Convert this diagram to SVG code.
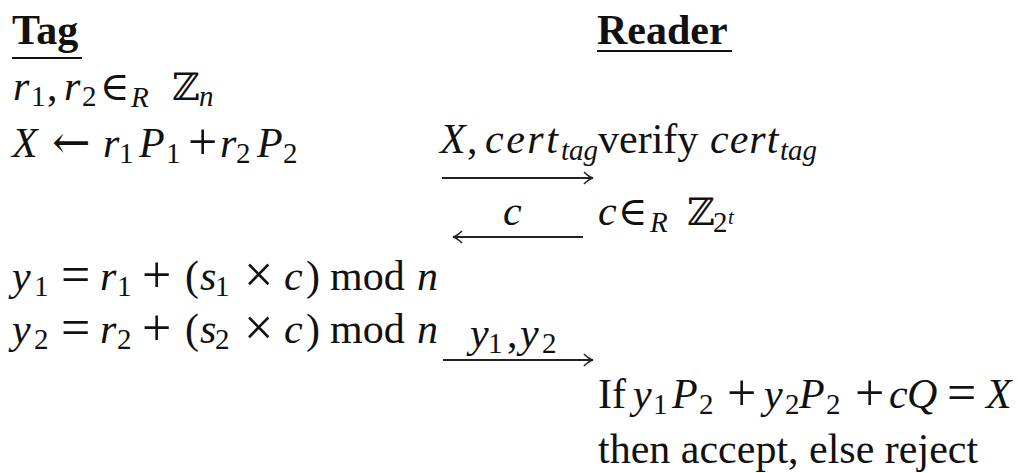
<svg xmlns="http://www.w3.org/2000/svg" width="1018" height="473" viewBox="0 0 1018 473">
<defs>
<style>
text{font-family:"Liberation Serif","DejaVu Serif",serif;font-size:42px;fill:#111}
.b{font-weight:bold}
.i{font-style:italic}
.s{font-size:29px}
.ss{font-size:21px}
.op{font-size:52px}
.el{font-family:"DejaVu Serif",serif;font-size:40px}
.la{font-family:"DejaVu Serif",serif;font-size:46px}
.bb{font-family:"DejaVu Serif",serif;font-size:38px}
.ul{stroke:#111;stroke-width:2}
.arr{stroke:#222;stroke-width:1.8;fill:none}
</style>
<marker id="head" markerUnits="userSpaceOnUse" markerWidth="16" markerHeight="14" refX="0" refY="0" viewBox="-12 -7 14 14" orient="auto">
<path d="M-9,-6 Q-4,-1 0,0 Q-4,1 -9,6" fill="none" stroke="#222" stroke-width="1.6"/>
</marker>
</defs>
<rect width="1018" height="473" fill="#fff"/>
<g id="tag-header"><text x="12" y="44" class="b">Tag</text><line class="ul" x1="12" y1="58" x2="82" y2="58"/></g>
<g id="reader-header"><text x="597" y="44" class="b">Reader</text><line class="ul" x1="597" y1="51" x2="732" y2="51"/></g>
<g id="tag-random">
<text><tspan x="13" y="100" class="i">r</tspan><tspan x="31" y="106" class="s">1</tspan><tspan x="47" y="100">,</tspan><tspan x="64" y="100" class="i">r</tspan><tspan x="82" y="106" class="s">2</tspan><tspan x="100" y="100" class="el">∈</tspan><tspan x="131" y="107" class="s i">R</tspan><tspan x="172" y="100" class="bb">ℤ</tspan><tspan x="199" y="106" class="s i">n</tspan></text>
</g>
<g id="tag-commit">
<text><tspan x="12" y="157" class="i">X</tspan><tspan x="52" y="158" class="la">←</tspan><tspan x="103" y="157" class="i">r</tspan><tspan x="119" y="163" class="s">1</tspan><tspan x="139" y="157" class="i">P</tspan><tspan x="166" y="163" class="s">1</tspan><tspan x="188" y="159" class="op">+</tspan><tspan x="220" y="157" class="i">r</tspan><tspan x="236" y="163" class="s">2</tspan><tspan x="257" y="157" class="i">P</tspan><tspan x="283" y="163" class="s">2</tspan></text>
</g>
<g id="reader-verify">
<text><tspan x="598" y="153">verify</tspan><tspan x="710" y="153" class="i" letter-spacing="1">cert</tspan><tspan x="780" y="160" class="s i">tag</tspan></text>
</g>
<g id="reader-challenge">
<text><tspan x="598" y="225" class="i">c</tspan><tspan x="618" y="225" class="el">∈</tspan><tspan x="650" y="232" class="s i">R</tspan><tspan x="687" y="225" class="bb">ℤ</tspan><tspan x="713" y="232" class="s">2</tspan><tspan x="728" y="224" class="ss i">t</tspan></text>
</g>
<g id="tag-response">
<text><tspan x="12" y="290" class="i">y</tspan><tspan x="34" y="296" class="s">1</tspan><tspan x="61" y="292" class="op">=</tspan><tspan x="100" y="290" class="i">r</tspan><tspan x="117" y="296" class="s">1</tspan><tspan x="142" y="292" class="op">+</tspan><tspan x="185" y="290">(</tspan><tspan x="200" y="290" class="i">s</tspan><tspan x="215" y="296" class="s">1</tspan><tspan x="244" y="292" class="op">×</tspan><tspan x="284" y="290" class="i">c</tspan><tspan x="306" y="290">)</tspan><tspan x="330" y="290">mod</tspan><tspan x="417" y="290" class="i">n</tspan></text>
<text><tspan x="12" y="343" class="i">y</tspan><tspan x="34" y="349" class="s">2</tspan><tspan x="61" y="345" class="op">=</tspan><tspan x="100" y="343" class="i">r</tspan><tspan x="117" y="349" class="s">2</tspan><tspan x="142" y="345" class="op">+</tspan><tspan x="185" y="343">(</tspan><tspan x="200" y="343" class="i">s</tspan><tspan x="215" y="349" class="s">2</tspan><tspan x="244" y="345" class="op">×</tspan><tspan x="284" y="343" class="i">c</tspan><tspan x="306" y="343">)</tspan><tspan x="330" y="343">mod</tspan><tspan x="417" y="343" class="i">n</tspan></text>
</g>
<g id="reader-check">
<text><tspan x="598" y="408">If</tspan><tspan x="633" y="408" class="i">y</tspan><tspan x="653" y="414" class="s">1</tspan><tspan x="672" y="408" class="i">P</tspan><tspan x="699" y="414" class="s">2</tspan><tspan x="727" y="410" class="op">+</tspan><tspan x="764" y="408" class="i">y</tspan><tspan x="785" y="414" class="s">2</tspan><tspan x="799" y="408" class="i">P</tspan><tspan x="826" y="414" class="s">2</tspan><tspan x="855" y="410" class="op">+</tspan><tspan x="889" y="408" class="i">c</tspan><tspan x="907" y="408" class="i">Q</tspan><tspan x="947" y="410" class="op">=</tspan><tspan x="986" y="408" class="i">X</tspan></text>
<text x="598" y="463">then accept, else reject</text>
</g>
<g id="connectors">
<path class="arr" d="M442,178 H593" marker-end="url(#head)"/>
<path class="arr" d="M583,237 H453" marker-end="url(#head)"/>
<path class="arr" d="M443,360 H593" marker-end="url(#head)"/>
<text><tspan x="440" y="153" class="i">X</tspan><tspan x="467" y="153">,</tspan><tspan x="485" y="153" class="i" letter-spacing="2.5">cert</tspan><tspan x="561" y="160" class="s i">tag</tspan></text>
<text x="503" y="225" class="i">c</text>
<text><tspan x="470" y="347" class="i">y</tspan><tspan x="488" y="353" class="s">1</tspan><tspan x="507" y="347">,</tspan><tspan x="520" y="347" class="i">y</tspan><tspan x="542" y="353" class="s">2</tspan></text>
</g>
</svg>
